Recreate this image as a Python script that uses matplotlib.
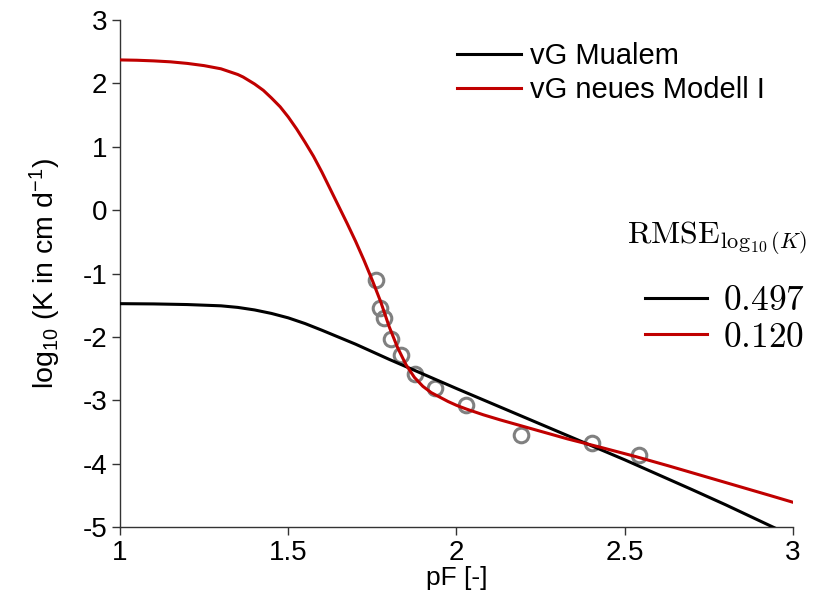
import matplotlib
matplotlib.use('Agg')
import matplotlib.pyplot as plt
from matplotlib.lines import Line2D
from matplotlib.font_manager import FontProperties

plt.rcParams['font.family'] = ['Liberation Sans', 'DejaVu Sans']
plt.rcParams['mathtext.fontset'] = 'custom'
plt.rcParams['mathtext.rm'] = 'Liberation Sans'
plt.rcParams['mathtext.it'] = 'Liberation Sans:italic'

# measured conductivities
pf_obs = [1.761, 1.773, 1.785, 1.805, 1.836, 1.876, 1.936, 2.028, 2.193, 2.403, 2.541]
logk_obs = [-1.10, -1.55, -1.70, -2.03, -2.29, -2.59, -2.81, -3.07, -3.55, -3.68, -3.86]

# vG Mualem model
pf_mualem = [1.00, 1.10, 1.20, 1.30, 1.35, 1.40, 1.45, 1.50, 1.55, 1.60, 1.65, 1.70,
             1.75, 1.80, 1.90, 2.00, 2.10, 2.20, 2.30, 2.40, 2.50, 2.60, 2.70, 2.80,
             2.90, 3.00]
logk_mualem = [-1.476, -1.48, -1.49, -1.51, -1.535, -1.575, -1.63, -1.70, -1.79, -1.895,
               -2.005, -2.115, -2.235, -2.355, -2.585, -2.815, -3.04, -3.265, -3.49,
               -3.715, -3.94, -4.175, -4.41, -4.65, -4.90, -5.15]

# vG neues Modell I
pf_neu = [1.00, 1.05, 1.10, 1.15, 1.20, 1.25, 1.30, 1.35, 1.366, 1.40, 1.426, 1.45,
          1.476, 1.50, 1.525, 1.55, 1.575, 1.60, 1.625, 1.65, 1.675, 1.70, 1.725, 1.75,
          1.775, 1.80, 1.825, 1.85, 1.875, 1.90, 1.925, 1.95, 1.975, 2.00, 2.03, 2.08,
          2.13, 2.23, 2.33, 2.43, 2.53, 2.63, 2.73, 2.83, 2.93, 3.00]
logk_neu = [2.37, 2.365, 2.355, 2.34, 2.315, 2.28, 2.23, 2.14, 2.10, 1.99, 1.89, 1.77,
            1.63, 1.47, 1.28, 1.07, 0.85, 0.60, 0.33, 0.06, -0.21, -0.49, -0.79, -1.11,
            -1.45, -1.84, -2.17, -2.44, -2.64, -2.78, -2.88, -2.95, -3.02, -3.08, -3.14,
            -3.23, -3.31, -3.46, -3.61, -3.745, -3.885, -4.035, -4.19, -4.345, -4.50,
            -4.61]

rmse_labels = ['0.497', '0.120']
model_names = ['vG Mualem', 'vG neues Modell I']
colors = ['black', '#c00000']

W, H = 826, 610
fig = plt.figure(figsize=(W / 100, H / 100), dpi=100)
ax = fig.add_axes([120 / W, 1 - 527 / H, (793 - 120) / W, (527 - 20) / H])

ax.plot(pf_obs, logk_obs, 'o', ms=10.5, mfc='none', mec='#808080', mew=2.2, zorder=2)
l1, = ax.plot(pf_mualem, logk_mualem, color=colors[0], lw=2.2, zorder=3)
l2, = ax.plot(pf_neu, logk_neu, color=colors[1], lw=2.2, zorder=4)

ax.set_xlim(1, 3)
ax.set_ylim(-5, 3)
ax.set_xticks([1, 1.5, 2, 2.5, 3])
ax.set_xticklabels(['1', '1.5', '2', '2.5', '3'])
ax.set_yticks(range(-5, 4))
ax.set_yticklabels([str(v) for v in range(-5, 4)])
for s in ['top', 'right']:
    ax.spines[s].set_visible(False)
for s in ['left', 'bottom']:
    ax.spines[s].set_color('#333333')
    ax.spines[s].set_linewidth(1.0)
ax.tick_params(direction='out', length=6, width=1, color='#333333',
               labelsize=20, pad=3)
ax.set_xlabel('pF [-]', fontsize=19, labelpad=0)
ax.set_ylabel('log$_{10}$ (K in cm d$^{-1}$)', fontsize=20.5, labelpad=14)

# model legend
leg1 = fig.legend([l1, l2], model_names, loc='upper left',
                  bbox_to_anchor=(457 / W, 1 - 42 / H), frameon=False,
                  fontsize=21, handlelength=2.2, handletextpad=0.3,
                  labelspacing=0.22, borderpad=0, borderaxespad=0)

# RMSE legend in serif math font
cm_prop = FontProperties(size=25.5, math_fontfamily='cm')
h1 = Line2D([], [], color=colors[0], lw=2.2)
h2 = Line2D([], [], color=colors[1], lw=2.2)
leg2 = fig.legend([h1, h2], ['$' + r + '$' for r in rmse_labels], loc='upper left',
                  bbox_to_anchor=(645 / W, 1 - 284 / H), frameon=False,
                  prop=cm_prop, handlelength=1.75, handletextpad=0.45,
                  labelspacing=0.1, borderpad=0, borderaxespad=0)
fig.text(627 / W, 1 - 244 / H, r'$\mathrm{RMSE}_{\log_{10}(K)}$',
         fontproperties=FontProperties(size=23, math_fontfamily='cm'),
         ha='left', va='baseline')

fig.savefig('out.png', dpi=100)
